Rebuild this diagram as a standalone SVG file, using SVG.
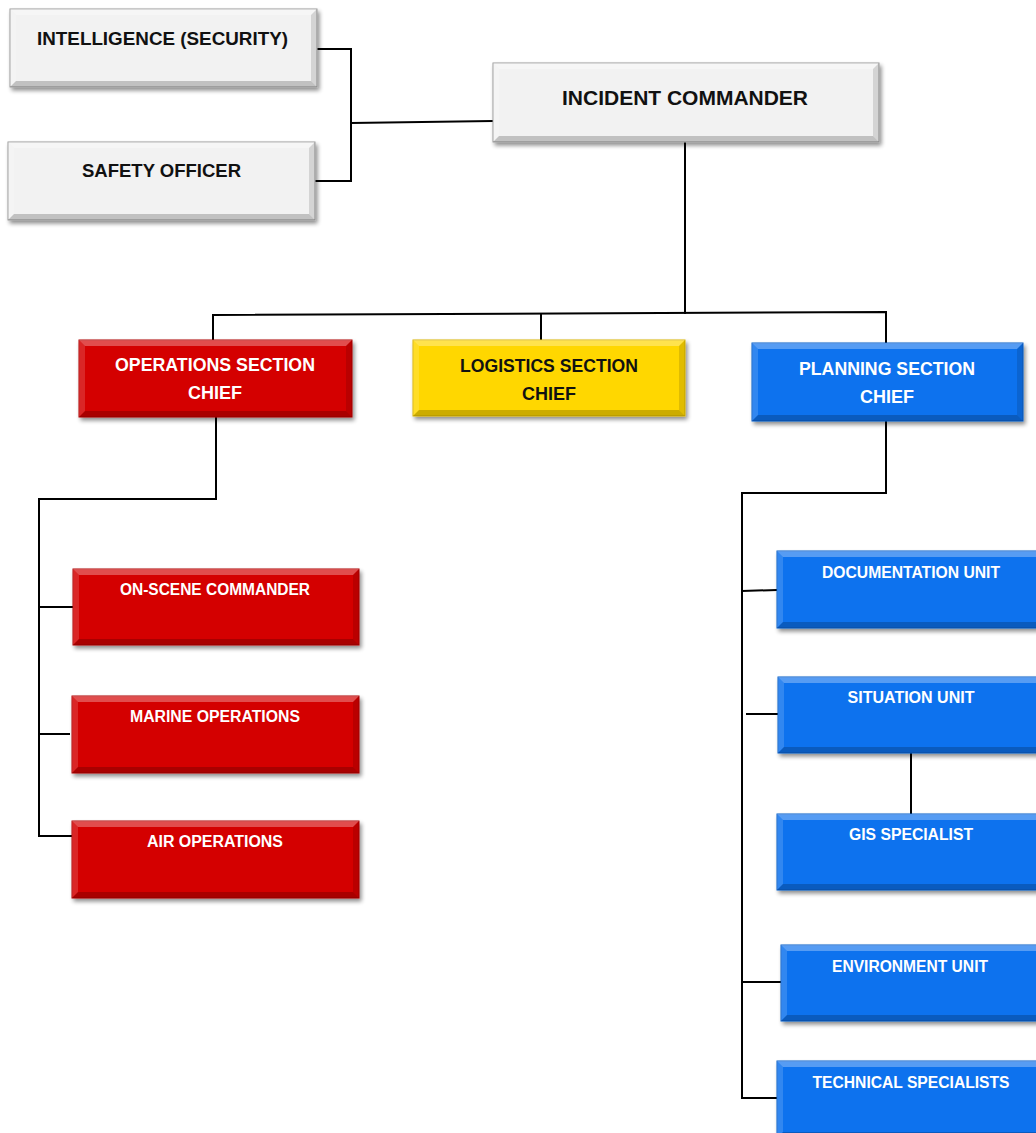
<svg xmlns="http://www.w3.org/2000/svg" width="1036" height="1133" viewBox="0 0 1036 1133">
<defs>
<filter id="sh" x="-5%" y="-10%" width="115%" height="130%">
<feGaussianBlur in="SourceAlpha" stdDeviation="2"/>
<feOffset dx="2" dy="3" result="b"/>
<feComponentTransfer><feFuncA type="linear" slope="0.45"/></feComponentTransfer>
<feMerge><feMergeNode/><feMergeNode in="SourceGraphic"/></feMerge>
</filter>
</defs>
<style>
.gray{fill:#f2f2f2;stroke:#9a9a9a;stroke-width:1}
.red{fill:#d40606;stroke:#b00000;stroke-width:1}
.yel{fill:#ffd700;stroke:#d9b400;stroke-width:1}
.blu{fill:#0f72ee;stroke:#0a5cc8;stroke-width:1}
.bt{fill:#fff;fill-opacity:0.3}
.bl{fill:#fff;fill-opacity:0.15}
.bb{fill:#000;fill-opacity:0.2}
.br{fill:#000;fill-opacity:0.12}
text{font-family:"Liberation Sans",Arial,sans-serif;font-weight:bold;text-anchor:middle}
.dk{fill:#111;font-size:18px}
.wh{fill:#fff;font-size:18px}
.sm{fill:#fff;font-size:16px}
.conn path{fill:none;stroke:#000;stroke-width:2}
</style>

<g class="conn" id="connectors">
<path d="M317,49 H351 V181 H315"/>
<path d="M351,123 L493,121"/>
<path d="M685,142 V314"/>
<path d="M213,340 V315 L886,312 V343"/>
<path d="M541,313 V340"/>
<path d="M216,417 V499 H39 V836 H72"/>
<path d="M39,607 H73"/>
<path d="M39,734 H70"/>
<path d="M886,421 V493 H742 V1098 H777"/>
<path d="M742,591 L777,590"/>
<path d="M746,714 H778"/>
<path d="M742,982 H781"/>
<path d="M911,753 V814"/>
</g>

<g id="intelligence" transform="translate(10,9)">
<rect class="gray" width="307" height="78" filter="url(#sh)"/>
<polygon class="bt" points="0,0 307,0 301,6 6,6"/><polygon class="bl" points="0,0 6,6 6,72 0,78"/><polygon class="bb" points="0,78 6,72 301,72 307,78"/><polygon class="br" points="307,0 307,78 301,72 301,6"/>
<text class="dk" x="152.5" y="36" textLength="251" lengthAdjust="spacingAndGlyphs">INTELLIGENCE (SECURITY)</text>
</g>

<g id="safety" transform="translate(8,142)">
<rect class="gray" width="307" height="78" filter="url(#sh)"/>
<polygon class="bt" points="0,0 307,0 301,6 6,6"/><polygon class="bl" points="0,0 6,6 6,72 0,78"/><polygon class="bb" points="0,78 6,72 301,72 307,78"/><polygon class="br" points="307,0 307,78 301,72 301,6"/>
<text class="dk" x="153.5" y="35" textLength="159" lengthAdjust="spacingAndGlyphs">SAFETY OFFICER</text>
</g>

<g id="incident-commander" transform="translate(493,63)">
<rect class="gray" width="386" height="79" filter="url(#sh)"/>
<polygon class="bt" points="0,0 386,0 380,6 6,6"/><polygon class="bl" points="0,0 6,6 6,73 0,79"/><polygon class="bb" points="0,79 6,73 380,73 386,79"/><polygon class="br" points="386,0 386,79 380,73 380,6"/>
<text class="dk" x="192" y="42" style="font-size:20px" textLength="246" lengthAdjust="spacingAndGlyphs">INCIDENT COMMANDER</text>
</g>

<g id="operations" transform="translate(79,340)">
<rect class="red" width="273" height="77" filter="url(#sh)"/>
<polygon class="bt" points="0,0 273,0 267,6 6,6"/><polygon class="bl" points="0,0 6,6 6,71 0,77"/><polygon class="bb" points="0,77 6,71 267,71 273,77"/><polygon class="br" points="273,0 273,77 267,71 267,6"/>
<text class="wh" x="136" y="31" textLength="200" lengthAdjust="spacingAndGlyphs">OPERATIONS SECTION</text>
<text class="wh" x="136" y="59">CHIEF</text>
</g>

<g id="logistics" transform="translate(413,340)">
<rect class="yel" width="272" height="76" filter="url(#sh)"/>
<polygon class="bt" points="0,0 272,0 266,6 6,6"/><polygon class="bl" points="0,0 6,6 6,70 0,76"/><polygon class="bb" points="0,76 6,70 266,70 272,76"/><polygon class="br" points="272,0 272,76 266,70 266,6"/>
<text class="dk" x="136" y="32" textLength="178" lengthAdjust="spacingAndGlyphs">LOGISTICS SECTION</text>
<text class="dk" x="136" y="60">CHIEF</text>
</g>

<g id="planning" transform="translate(752,343)">
<rect class="blu" width="271" height="78" filter="url(#sh)"/>
<polygon class="bt" points="0,0 271,0 265,6 6,6"/><polygon class="bl" points="0,0 6,6 6,72 0,78"/><polygon class="bb" points="0,78 6,72 265,72 271,78"/><polygon class="br" points="271,0 271,78 265,72 265,6"/>
<text class="wh" x="135" y="32" textLength="176" lengthAdjust="spacingAndGlyphs">PLANNING SECTION</text>
<text class="wh" x="135" y="60">CHIEF</text>
</g>

<g id="on-scene" transform="translate(73,569)">
<rect class="red" width="286" height="76" filter="url(#sh)"/>
<polygon class="bt" points="0,0 286,0 280,6 6,6"/><polygon class="bl" points="0,0 6,6 6,70 0,76"/><polygon class="bb" points="0,76 6,70 280,70 286,76"/><polygon class="br" points="286,0 286,76 280,70 280,6"/>
<text class="sm" x="142" y="26" textLength="190" lengthAdjust="spacingAndGlyphs">ON-SCENE COMMANDER</text>
</g>

<g id="marine" transform="translate(72,696)">
<rect class="red" width="287" height="77" filter="url(#sh)"/>
<polygon class="bt" points="0,0 287,0 281,6 6,6"/><polygon class="bl" points="0,0 6,6 6,71 0,77"/><polygon class="bb" points="0,77 6,71 281,71 287,77"/><polygon class="br" points="287,0 287,77 281,71 281,6"/>
<text class="sm" x="143" y="26" textLength="170" lengthAdjust="spacingAndGlyphs">MARINE OPERATIONS</text>
</g>

<g id="air" transform="translate(72,821)">
<rect class="red" width="287" height="77" filter="url(#sh)"/>
<polygon class="bt" points="0,0 287,0 281,6 6,6"/><polygon class="bl" points="0,0 6,6 6,71 0,77"/><polygon class="bb" points="0,77 6,71 281,71 287,77"/><polygon class="br" points="287,0 287,77 281,71 281,6"/>
<text class="sm" x="143" y="26" textLength="136" lengthAdjust="spacingAndGlyphs">AIR OPERATIONS</text>
</g>

<g id="documentation" transform="translate(777,551)">
<rect class="blu" width="268" height="77" filter="url(#sh)"/>
<polygon class="bt" points="0,0 268,0 262,6 6,6"/><polygon class="bl" points="0,0 6,6 6,71 0,77"/><polygon class="bb" points="0,77 6,71 262,71 268,77"/><polygon class="br" points="268,0 268,77 262,71 262,6"/>
<text class="sm" x="134" y="27" textLength="178" lengthAdjust="spacingAndGlyphs">DOCUMENTATION UNIT</text>
</g>

<g id="situation" transform="translate(778,677)">
<rect class="blu" width="268" height="76" filter="url(#sh)"/>
<polygon class="bt" points="0,0 268,0 262,6 6,6"/><polygon class="bl" points="0,0 6,6 6,70 0,76"/><polygon class="bb" points="0,76 6,70 262,70 268,76"/><polygon class="br" points="268,0 268,76 262,70 262,6"/>
<text class="sm" x="133" y="26" textLength="127" lengthAdjust="spacingAndGlyphs">SITUATION UNIT</text>
</g>

<g id="gis" transform="translate(777,814)">
<rect class="blu" width="268" height="76" filter="url(#sh)"/>
<polygon class="bt" points="0,0 268,0 262,6 6,6"/><polygon class="bl" points="0,0 6,6 6,70 0,76"/><polygon class="bb" points="0,76 6,70 262,70 268,76"/><polygon class="br" points="268,0 268,76 262,70 262,6"/>
<text class="sm" x="134" y="26" textLength="124" lengthAdjust="spacingAndGlyphs">GIS SPECIALIST</text>
</g>

<g id="environment" transform="translate(781,945)">
<rect class="blu" width="268" height="76" filter="url(#sh)"/>
<polygon class="bt" points="0,0 268,0 262,6 6,6"/><polygon class="bl" points="0,0 6,6 6,70 0,76"/><polygon class="bb" points="0,76 6,70 262,70 268,76"/><polygon class="br" points="268,0 268,76 262,70 262,6"/>
<text class="sm" x="129" y="27" textLength="156" lengthAdjust="spacingAndGlyphs">ENVIRONMENT UNIT</text>
</g>

<g id="technical" transform="translate(777,1061)">
<rect class="blu" width="268" height="77" filter="url(#sh)"/>
<polygon class="bt" points="0,0 268,0 262,6 6,6"/><polygon class="bl" points="0,0 6,6 6,71 0,77"/><polygon class="bb" points="0,77 6,71 262,71 268,77"/><polygon class="br" points="268,0 268,77 262,71 262,6"/>
<text class="sm" x="134" y="27" textLength="197" lengthAdjust="spacingAndGlyphs">TECHNICAL SPECIALISTS</text>
</g>
</svg>
